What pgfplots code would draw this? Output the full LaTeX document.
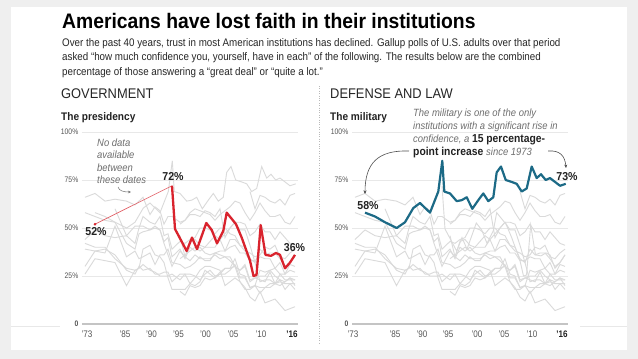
\documentclass[border=0pt]{standalone}
\usepackage{pgfplots}
\pgfplotsset{compat=1.18}
\usepackage{pgfplotstable}
\usepackage{fontspec}
\usetikzlibrary{arrows.meta}
\setmainfont{Liberation Sans}
\newfontfamily\cond{Liberation Sans}[FakeStretch=0.85]
\newfontfamily\subf{Liberation Sans}[FakeStretch=0.89]
\newfontfamily\notef{Liberation Sans}[FakeStretch=0.9]
\newfontfamily\headf{Liberation Sans}[FakeStretch=0.92]
\newfontfamily\titlef{Liberation Sans}[FakeStretch=0.92]
\definecolor{bg}{HTML}{EFEFEF}
\definecolor{gline}{HTML}{DADADA}
\definecolor{gridc}{HTML}{E8E8E8}
\definecolor{basec}{HTML}{C4C4C4}
\definecolor{pres}{HTML}{D9232D}
\definecolor{mil}{HTML}{1C6A86}
\definecolor{txt}{HTML}{222222}
\definecolor{subc}{HTML}{262626}
\definecolor{note}{HTML}{6E6E6E}
\definecolor{tickc}{HTML}{555555}

\pgfplotstableread{
x church court banks schools papers congress tv labor bigbiz police medical justice smallbiz
85 66 44 nan 58 39 42 nan 30 26 nan nan nan nan
95 68 49 nan 56 38 40 nan 38 34 nan nan nan nan
105 64 46 nan 54 37 40 nan 39 33 nan nan nan nan
115 65 45 60 53 51 34 nan 36 32 nan nan nan nan
126.5 64 46 46 42 35 29 nan 28 20 nan nan nan nan
135 62 42 51 39 38 28 nan 26 28 nan nan nan nan
139 64 50 51 47 34 29 nan 30 29 nan nan nan nan
143 66 56 51 48 35 39 nan 28 31 nan nan nan nan
150 57 53 49 49 37 41 nan 29 28 nan nan nan nan
155 61 52 51 50 31 36 nan 26 27 nan nan nan nan
160 59 56 49 49 36 35 nan 26 25 nan nan nan nan
164 52 46 42 43 36 32 nan 27 25 nan nan nan nan
168 56 47 36 45 39 24 nan 27 25 nan nan nan nan
172 56 39 30 35 32 18 nan 22 26 nan nan nan nan
180 53 43 38 39 31 18 46 26 23 52 34 17 nan
185 54 42 35 34 29 18 35 26 26 54 36 15 nan
190 57 44 43 40 30 21 33 26 21 58 38 20 nan
195 57 45 44 38 32 20 36 25 24 60 40 19 nan
200 56 50 41 40 35 22 34 23 28 59 38 20 nan
205 59 50 40 37 33 28 34 26 30 58 40 24 nan
210 58 49 43 36 33 26 34 28 30 57 40 23 nan
215 56 47 46 37 37 24 36 25 29 54 40 24 nan
220 60 50 44 38 36 26 34 26 28 57 44 27 nan
225 45 50 47 38 35 29 35 26 20 59 38 29 nan
230 50 47 50 40 33 29 35 28 22 61 44 29 nan
235 53 46 53 41 30 30 30 31 24 64 44 34 nan
240 53 41 49 37 28 22 28 24 22 63 41 26 nan
245 52 40 49 37 30 19 31 24 18 58 38 25 nan
250 46 34 41 33 22 14 23 19 18 54 37 19 69
255 48 32 32 33 24 12 24 20 20 58 35 20 60
260 52 39 22 35 25 17 23 19 16 63 36 28 67
265 48 36 23 34 25 11 22 19 19 59 40 27 66
270 48 37 23 34 28 12 27 21 19 56 39 28 64
275 44 37 21 29 25 13 21 21 21 56 41 29 63
280 48 34 26 32 23 10 23 20 22 57 35 26 65
285 45 30 26 26 22 7 18 22 21 53 34 23 62
290 42 32 28 31 24 8 21 24 21 52 37 23 67
295 41 36 27 30 20 9 21 23 18 56 39 23 68
}\graydata

\pgfplotstableread{
x y
95 52
nan nan
172 72
175 49.5
186.7 38
192 45
197 39
206.3 52.6
211.7 49
217 42
223.3 48.5
226.7 58
236 52
241.7 45
250 33
253.5 25
256.5 25.5
260.7 51.5
265.5 36
271 35.5
276 37
280 36
285 29
290 32
295 36
}\presdata

\pgfplotstableread{
x y
95 58
105 56
115 53
126.7 50
135 53
143.3 60.4
150 63
160 58
168.3 69
172.3 85
174.3 69
180 68
186.7 64
191.7 64.5
196.7 66
202.3 60
208.3 64.5
213.3 68
218.3 64
223.3 66
226.7 79
231 82
235.7 75
241.7 74
246.7 73
251.7 69
256.7 70.6
261.7 82
266.7 76
271 78
275.7 75
280 76
285 74
290 72
295.7 73
}\mildata

\pgfplotsset{panel/.style={
  scale only axis, width=216pt, height=192pt, anchor=south west,
  xmin=82, xmax=298, ymin=0, ymax=100,
  axis line style={draw=none}, major tick style={draw=none}, minor tick style={draw=none},
  ytick={25,50,75,100}, yticklabels={25\%,50\%,75\%,100\%},
  extra y ticks={0}, extra y tick labels={\textbf{0}},
  extra y tick style={grid style={draw=basec, line width=1.6pt}, major tick style={draw=none}},
  ymajorgrids, grid style={draw=gridc, line width=0.8pt},
  xticklabels={’73,’85,’90,’95,’00,’05,’10,\textbf{\color{txt}’16}},
  xticklabel style={font=\cond\fontsize{9.5}{11}\selectfont, text=tickc, anchor=north, inner sep=0pt, yshift=-7pt},
  yticklabel style={font=\cond\fontsize{8}{9}\selectfont, text=tickc, inner sep=0pt, xshift=-3.5pt},
  clip=false, unbounded coords=jump,
  graysty/.style={draw=gline, line width=0.9pt, no marks},
}}

\begin{document}
\begin{tikzpicture}
\path[use as bounding box] (0pt,0pt) rectangle (638pt,-359pt);
\fill[bg] (0pt,0pt) rectangle (638pt,-359pt);
\fill[white] (11pt,-7pt) rectangle (627pt,-350pt);
\draw[gridc, line width=0.8pt] (11pt,-326pt) -- (60pt,-326pt);
\draw[gridc, line width=0.8pt] (580pt,-326pt) -- (627pt,-326pt);

% title and subtitle
\node[anchor=base west, inner sep=0pt, text=black] at (62pt,-28pt)
  {\titlef\fontsize{21}{24}\selectfont\bfseries Americans have lost faith in their institutions};
\node[anchor=base west, inner sep=0pt, text=subc] at (62pt,-46pt)
  {\subf\fontsize{11}{13}\selectfont Over the past 40 years, trust in most American institutions has declined. Gallup polls of U.S. adults over that period};
\node[anchor=base west, inner sep=0pt, text=subc] at (62pt,-60.5pt)
  {\subf\fontsize{11}{13}\selectfont asked “how much confidence you, yourself, have in each” of the following. The results below are the combined};
\node[anchor=base west, inner sep=0pt, text=subc] at (62pt,-75pt)
  {\subf\fontsize{11}{13}\selectfont percentage of those answering a “great deal” or “quite a lot.”};

% panel headers
\node[anchor=base west, inner sep=0pt, text=subc] at (61pt,-98pt)
  {\headf\fontsize{14}{16}\selectfont GOVERNMENT};
\node[anchor=base west, inner sep=0pt, text=subc] at (330pt,-98pt)
  {\headf\fontsize{14}{16}\selectfont DEFENSE AND LAW};
\node[anchor=base west, inner sep=0pt, text=txt] at (61pt,-120pt)
  {\headf\fontsize{11}{13}\selectfont\bfseries The presidency};
\node[anchor=base west, inner sep=0pt, text=txt] at (330pt,-120pt)
  {\headf\fontsize{11}{13}\selectfont\bfseries The military};

% separator
\draw[gray!55, line width=0.7pt, dash pattern=on 0.8pt off 1.6pt] (319pt,-86pt) -- (319pt,-343pt);

% left panel
\begin{axis}[panel, at={(82pt,-324pt)},
  xtick={87,125,151.5,178.5,205.5,233,261,292}]
  \pgfplotsinvokeforeach{church,court,banks,schools,papers,congress,tv,labor,bigbiz,police,medical,justice,smallbiz}{
    \addplot[graysty] table[x=x,y=#1]{\graydata};
  }
  \addplot[graysty] table[x=x,y=y]{\mildata};
  \addplot[pres!75, line width=0.6pt, no marks] coordinates {(95,52) (172,72)};
  \addplot[pres, only marks, mark=*, mark size=1.1pt] coordinates {(95,52)};
  \addplot[pres, line width=2.3pt, no marks, line join=round] table[x=x,y=y]{\presdata};
\end{axis}

% right panel
\begin{axis}[panel, at={(352pt,-324pt)},
  xtick={83,125,152,178,207,234,262,292}]
  \pgfplotsinvokeforeach{church,court,banks,schools,papers,congress,tv,labor,bigbiz,police,medical,justice,smallbiz}{
    \addplot[graysty] table[x=x,y=#1]{\graydata};
  }
  \addplot[graysty] table[x=x,y=y]{\presdata};
  \addplot[mil, line width=2.2pt, no marks, line join=round] table[x=x,y=y]{\mildata};
\end{axis}

% left annotations
\foreach \t/\yy in {No data/146, available/158.5, between/171, these dates/183.5}{
  \node[anchor=base west, inner sep=0pt, text=note] at (97pt,-\yy pt)
    {\notef\fontsize{10.5}{12}\selectfont\itshape \t};
}
\draw[note, line width=0.5pt, -{Stealth[length=3pt,width=2.5pt]}] (118pt,-187pt) .. controls (119pt,-191pt) and (124pt,-192pt) .. (131pt,-192pt);
\node[anchor=center, inner sep=0pt, text=txt] at (173pt,-177pt) {\headf\fontsize{11.5}{13}\selectfont\bfseries 72\%};
\node[anchor=center, inner sep=0pt, text=txt] at (96pt,-232pt) {\headf\fontsize{11.5}{13}\selectfont\bfseries 52\%};
\node[anchor=center, inner sep=0pt, text=txt] at (294.5pt,-248pt) {\headf\fontsize{11.5}{13}\selectfont\bfseries 36\%};

% right annotations
\node[anchor=base west, inner sep=0pt, text=note] at (413pt,-116pt)
  {\notef\fontsize{10.5}{12}\selectfont\itshape The military is one of the only};
\node[anchor=base west, inner sep=0pt, text=note] at (413pt,-129pt)
  {\notef\fontsize{10.5}{12}\selectfont\itshape institutions with a significant rise in};
\node[anchor=base west, inner sep=0pt] at (413pt,-142pt)
  {\notef\fontsize{10.5}{12}\selectfont{\color{note}\itshape confidence, a }{\color{txt}\fontsize{11.5}{13}\selectfont\bfseries 15 percentage-}};
\node[anchor=base west, inner sep=0pt] at (413pt,-155pt)
  {\notef\fontsize{10.5}{12}\selectfont{\color{txt}\fontsize{11.5}{13}\selectfont\bfseries point increase }{\color{note}\itshape since 1973}};
\draw[txt!80, line width=0.6pt, -{Stealth[length=3.5pt,width=3pt]}] (409pt,-151pt) .. controls (378pt,-150pt) and (365pt,-163pt) .. (365pt,-194pt);
\draw[txt!80, line width=0.6pt, -{Stealth[length=3.5pt,width=3pt]}] (548pt,-151pt) .. controls (560pt,-150pt) and (565pt,-156pt) .. (566pt,-168pt);
\node[anchor=center, inner sep=0pt, text=txt] at (368pt,-206pt) {\headf\fontsize{11.5}{13}\selectfont\bfseries 58\%};
\node[anchor=center, inner sep=0pt, text=txt] at (567pt,-177pt) {\headf\fontsize{11.5}{13}\selectfont\bfseries 73\%};
\end{tikzpicture}
\end{document}
